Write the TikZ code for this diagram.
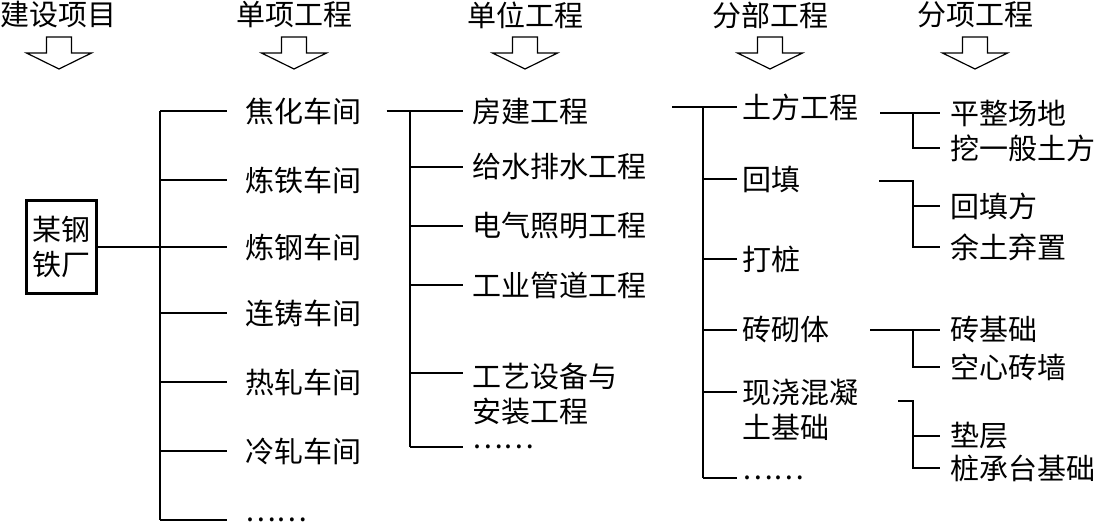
\documentclass[tikz,border=0pt]{standalone}
\usepackage{fontspec}
\newfontfamily\cjk{Noto Sans CJK SC}
\begin{document}
\begin{tikzpicture}[x=0.5pt,y=-0.5pt,line width=0.8pt,
    every node/.style={font=\cjk\fontsize{14.5pt}{17.5pt}\selectfont},
    head/.style={inner sep=0pt},
    leaf/.style={anchor=west,inner ysep=1pt,align=left}]
  \useasboundingbox (0,0) rectangle (1098,524);
  % headers with hollow arrows
  \node[head] (h1) at (59,15) {建设项目};
  \node[head] (h2) at (294,15) {单项工程};
  \node[head] (h3) at (525,15) {单位工程};
  \node[head] (h4) at (770,15) {分部工程};
  \node[head] (h5) at (975,15) {分项工程};
  \foreach \i in {1,...,5} {%
    \draw[line width=0.6pt] (h\i.center) ++(-12.5,22) -- ++(25,0) -- ++(0,16)
      -- ++(20,0) -- ++(-32.5,16) -- ++(-32.5,-16) -- ++(20,0) -- cycle;
  }
  % project
  \node[draw,line width=1.5pt,inner sep=0pt,minimum width=35pt,minimum height=46.5pt,
    align=center] (root) at (61.5,247) {某钢\\铁厂};
  % single projects
  \foreach \n/\y/\t in {1/111/焦化车间,2/180/炼铁车间,3/247/炼钢车间,4/313/连铸车间,
      5/382/热轧车间,6/451/冷轧车间,7/520/……}
    \node[leaf,inner xsep=9pt] (w\n) at (227,\y) {\t};
  \coordinate (t1) at (160,111);
  \draw (t1) -- (t1 |- w7.west);
  \foreach \n in {1,...,7}
    \draw (t1 |- w\n.west) -- (w\n.west);
  \draw (root.east) -- (t1 |- root.east);
  % unit projects
  \foreach \n/\y/\t in {1/111/房建工程,2/167/给水排水工程,3/226/电气照明工程,
      4/285/工业管道工程,5/394/{工艺设备与\\安装工程},6/447/……}
    \node[leaf,inner xsep=4.5pt] (u\n) at (463,\y) {\t};
  \coordinate (t2) at (410,111);
  \coordinate (u5b) at ([yshift=10.5pt]u5.west);
  \draw[shorten <=3pt] (w1.east) -- (u1.west);
  \draw (t2) -- (t2 |- u6.west);
  \foreach \a in {u2.west,u3.west,u4.west,u5b,u6.west}
    \draw (t2 |- \a) -- (\a);
  % sub-part projects
  \foreach \n/\y/\t in {1/107/土方工程,2/179/回填,3/259/打桩,4/330/砖砌体,
      5/410/{现浇混凝\\土基础},6/478/……}
    \node[leaf,inner xsep=2.5pt] (p\n) at (737,\y) {\t};
  \coordinate (s3) at (672,107);
  \coordinate (t3) at (703,107);
  \coordinate (p5b) at ([yshift=9pt]p5.west);
  \draw (s3) -- (p1.west);
  \draw (t3) -- (t3 |- p6.west);
  \foreach \a in {p2.west,p3.west,p4.west,p5b,p6.west}
    \draw (t3 |- \a) -- (\a);
  % sub-item projects
  \foreach \n/\y/\t in {1/113/平整场地,2/148/挖一般土方,3/206/回填方,4/247/余土弃置,
      5/330/砖基础,6/367/空心砖墙,7/436/垫层,8/468/桩承台基础}
    \node[leaf,inner xsep=5pt] (i\n) at (940,\y) {\t};
  \coordinate (g1) at (880,113);
  \coordinate (k1) at (913,113);
  \coordinate (g2) at (879,181);
  \coordinate (k2) at (913,181);
  \coordinate (g3) at (870,330);
  \coordinate (k3) at (913,330);
  \coordinate (g4) at (898,401);
  \coordinate (k4) at (913,401);
  \draw (g1) -- (i1.west);
  \draw (k1) |- (i2.west);
  \draw (g2) -- (k2) |- (i4.west);
  \draw (k2 |- i3.west) -- (i3.west);
  \draw (g3) -- (i5.west);
  \draw (k3) |- (i6.west);
  \draw (g4) -- (k4) |- (i8.west);
  \draw (k4 |- i7.west) -- (i7.west);
\end{tikzpicture}
\end{document}
